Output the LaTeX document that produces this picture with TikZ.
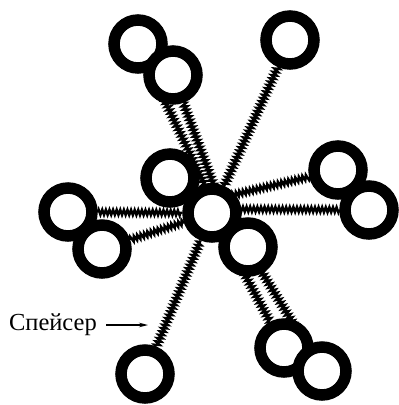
\documentclass[tikz,border=0pt]{standalone}
\usepackage{fontspec}
\setmainfont{Liberation Serif}
\usetikzlibrary{arrows.meta,positioning,calc,decorations.pathmorphing,backgrounds}

\begin{document}
\begin{tikzpicture}[
    x=1pt,y=-1pt,
    mol/.style={circle,draw=black,line width=11.5pt,fill=white,minimum size=48pt,inner sep=0pt},
    spc/.style={decorate,decoration={zigzag,segment length=3.6pt,amplitude=2.6pt},line width=2.4pt},
    arr/.style={-{Stealth[length=9pt,width=4.5pt]},line width=1.2pt},
    lbl/.style={inner sep=0pt,font=\fontsize{24.5}{28}\selectfont}
]
    \useasboundingbox (0,0) rectangle (399,405);

    % molecules
    \node[mol] (A1) at (138,44) {};
    \node[mol] (A2) at (173,75) {};
    \node[mol] (B) at (290,40) {};
    \node[mol] (C) at (170,178) {};
    \node[mol] (E) at (248,247) {};
    \node[mol] (D) at (212,213) {};
    \node[mol] (F1) at (338,170) {};
    \node[mol] (F2) at (369,210) {};
    \node[mol] (G1) at (68,212) {};
    \node[mol] (G2) at (102,249) {};
    \node[mol] (H) at (145,374) {};
    \node[mol] (I1) at (284,348) {};
    \node[mol] (I2) at (322,371) {};

    % spacers
    \begin{pgfonlayer}{background}
        \draw[spc] (A1) -- ($(D)+(6,0)$);
        \draw[spc] (A2) -- ($(D)+(12,0)$);
        \draw[spc] (B) -- (D);
        \draw[spc] (F1) -- ($(D)+(0,-13)$);
        \draw[spc] (F2) -- ($(D)+(0,-4)$);
        \draw[spc] (G1) -- (D);
        \draw[spc] (G2) -- (D);
        \draw[spc] (H) -- (D);
        \draw[spc] (I1) -- (D);
        \draw[spc] (I2) -- ($(D)+(14,0)$);
    \end{pgfonlayer}

    % label
    \coordinate (tail) at (106,325);
    \coordinate (tip) at (148,325);
    \node[lbl,left=9pt of tail] (spacer) {Спейсер};
    \draw[arr] (tail) -- (tip);
\end{tikzpicture}
\end{document}
